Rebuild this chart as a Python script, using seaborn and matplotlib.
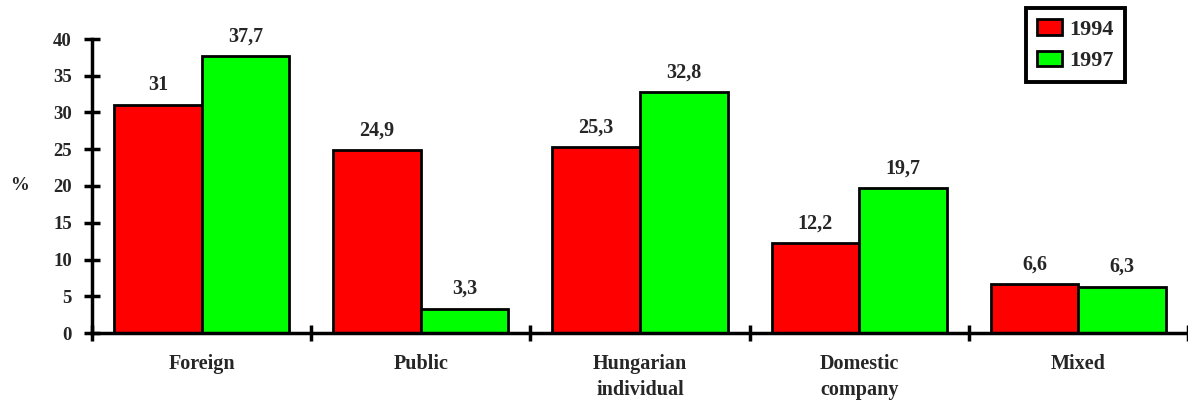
import matplotlib
matplotlib.use("Agg")
import matplotlib.pyplot as plt
import seaborn as sns
import pandas as pd
from matplotlib.ticker import MultipleLocator, FixedLocator

categories = ["Foreign", "Public", "Hungarian\nindividual", "Domestic\ncompany", "Mixed"]
years = ["1994", "1997"]
values_1994 = [31, 24.9, 25.3, 12.2, 6.6]
values_1997 = [37.7, 3.3, 32.8, 19.7, 6.3]
colors = ["#FF0000", "#00FF00"]

df = pd.DataFrame({
    "category": categories * 2,
    "year": [years[0]] * len(categories) + [years[1]] * len(categories),
    "value": values_1994 + values_1997,
})

sns.set_theme(style="white")
plt.rcParams["font.family"] = ["Liberation Serif", "DejaVu Serif"]
plt.rcParams["font.weight"] = "bold"

fig = plt.figure(figsize=(11.88, 4.03), dpi=100)
ax = fig.add_axes([92 / 1188, 1 - 333 / 403, 1 - 92 / 1188, (333 - 39) / 403])

sns.barplot(data=df, x="category", y="value", hue="year", palette=colors,
            order=categories, hue_order=years, width=0.8,
            edgecolor="black", linewidth=2, saturation=1, ax=ax)

def fmt(v):
    return str(int(v)) if float(v).is_integer() else f"{v}".replace(".", ",")

for cont, vals in zip(ax.containers, [values_1994, values_1997]):
    ax.bar_label(cont, labels=[fmt(v) for v in vals], padding=7,
                 fontsize=14.5, fontweight="bold")

ax.set_xlim(-0.5, len(categories) - 0.5)
ax.set_ylim(0, 40)
ax.yaxis.set_major_locator(MultipleLocator(5))
ax.tick_params(axis="y", left=True, direction="inout", length=11, width=2.5,
               labelsize=13.5, pad=9, color="black")
ax.tick_params(axis="x", which="major", bottom=True, length=0, labelsize=14.5, pad=15)
ax.xaxis.set_minor_locator(FixedLocator([i - 0.5 for i in range(len(categories) + 1)]))
ax.tick_params(axis="x", which="minor", bottom=True, direction="inout", length=11,
               width=2.5, color="black")
for lab in ax.get_xticklabels():
    lab.set_fontweight("bold")
    lab.set_linespacing(1.42)
for lab in ax.get_yticklabels():
    lab.set_fontweight("bold")

ax.set_xlabel("")
ax.set_ylabel("%", rotation=0, fontsize=13.5, fontweight="bold", labelpad=24, va="center")

for s in ["top", "right"]:
    ax.spines[s].set_visible(False)
for s in ["left", "bottom"]:
    ax.spines[s].set_color("black")
    ax.spines[s].set_linewidth(2.5)

leg = ax.legend(loc="upper left", bbox_to_anchor=(1026 / 1188, 1 - 8 / 403),
                bbox_transform=fig.transFigure, frameon=True, fancybox=False,
                framealpha=1, borderaxespad=0,
                prop={"weight": "bold", "size": 16}, handlelength=1.1, handleheight=0.7,
                handletextpad=0.35, borderpad=0.5, labelspacing=0.5)
leg.get_frame().set_edgecolor("black")
leg.get_frame().set_linewidth(2.8)
leg.set_title(None)

fig.savefig("out.png", dpi=100)
